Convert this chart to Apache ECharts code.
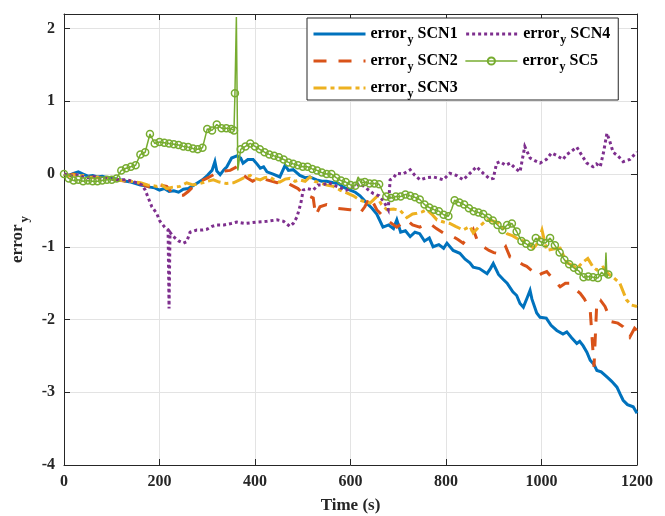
<!DOCTYPE html>
<html>
<head>
<meta charset="utf-8">
<script src="https://cdn.jsdelivr.net/npm/echarts@6/dist/echarts.min.js"></script>
<style>
html,body{margin:0;padding:0;background:#fff;}
#chart{width:665px;height:516px;}
</style>
</head>
<body>
<div id="chart"></div>
<script>
// ---- data (time in s, error_y) ----
const xTicks = [0, 200, 400, 600, 800, 1000, 1200];
const yTicks = [-4, -3, -2, -1, 0, 1, 2];

const scn1T = [0,10,20,30,40,50,60,70,80,90,100,110,120,130,140,150,160,170,180,190,200,210,220,230,240,250,260,270,280,290,300,310,316,320,327,335,341,351,362,370,375,385,396,404,411,418,425,438,452,463,470,480,494,505,515,529,540,550,564,575,585,599,610,620,634,645,655,668,680,690,697,705,715,725,735,745,755,765,773,785,795,802,815,829,840,850,857,870,886,893,899,910,920,928,940,948,955,962,970,976,980,990,997,1010,1020,1032,1045,1053,1063,1074,1080,1087,1095,1102,1110,1116,1125,1137,1147,1158,1165,1171,1180,1192,1200];
const scn1V = [0,-0.02,0.01,0.03,0,-0.03,-0.02,-0.04,-0.03,-0.05,-0.05,-0.07,-0.08,-0.1,-0.11,-0.13,-0.15,-0.16,-0.18,-0.19,-0.22,-0.2,-0.24,-0.23,-0.25,-0.21,-0.2,-0.16,-0.12,-0.08,-0.02,0.05,0.17,0.04,-0.01,0.06,0.1,0.22,0.25,0.22,0.15,0.2,0.2,0.14,0.08,0.1,0.03,0,-0.04,0.12,0.05,0.06,-0.02,-0.05,-0.04,-0.08,-0.1,-0.1,-0.12,-0.13,-0.18,-0.22,-0.25,-0.3,-0.4,-0.47,-0.55,-0.73,-0.7,-0.75,-0.63,-0.8,-0.78,-0.86,-0.8,-0.82,-0.92,-0.88,-1.0,-0.97,-1.02,-0.95,-1.05,-1.09,-1.17,-1.22,-1.28,-1.3,-1.37,-1.3,-1.23,-1.38,-1.45,-1.5,-1.62,-1.67,-1.78,-1.83,-1.7,-1.6,-1.72,-1.91,-1.97,-1.98,-2.08,-2.15,-2.2,-2.17,-2.25,-2.33,-2.3,-2.36,-2.45,-2.56,-2.62,-2.7,-2.72,-2.79,-2.85,-2.93,-3.03,-3.11,-3.17,-3.2,-3.29];

const scn2T = [0,10,20,30,40,50,60,70,80,90,100,110,120,130,140,150,159,170,180,187,200,215,225,236,250,260,271,285,299,310,320,335,348,362,372,383,395,410,425,436,446,460,475,490,505,515,522,527,536,550,564,571,585,599,610,620,630,641,655,668,680,697,707,718,730,745,755,766,780,794,815,825,836,845,857,866,878,890,900,913,925,934,945,955,962,969,980,990,1000,1011,1025,1039,1050,1060,1070,1081,1090,1102,1110,1116,1123,1133,1146,1160,1171,1185,1195,1200];
const scn2V = [0,-0.02,0,-0.02,-0.03,-0.05,-0.04,-0.05,-0.06,-0.06,-0.07,-0.08,-0.09,-0.1,-0.11,-0.12,-0.13,-0.16,-0.18,-0.2,-0.15,-0.17,-0.25,-0.29,-0.29,-0.24,-0.17,-0.1,-0.06,-0.02,0.02,0.04,0.05,0.1,0,-0.05,-0.1,-0.04,-0.08,-0.1,-0.12,-0.1,-0.15,-0.2,-0.3,-0.31,-0.33,-0.57,-0.45,-0.42,-0.45,-0.47,-0.48,-0.49,-0.5,-0.54,-0.45,-0.31,-0.49,-0.58,-0.65,-0.73,-0.68,-0.63,-0.7,-0.73,-0.7,-0.68,-0.75,-0.81,-0.86,-0.9,-0.95,-0.88,-0.76,-0.92,-1.0,-1.05,-1.08,-1.1,-1.0,-1.14,-1.16,-1.22,-1.25,-1.27,-1.33,-1.41,-1.37,-1.34,-1.45,-1.55,-1.5,-1.5,-1.58,-1.64,-1.72,-1.87,-2.65,-1.73,-1.73,-1.82,-2.03,-2.05,-2.1,-2.24,-2.12,-2.15];

const scn3T = [0,10,20,30,40,50,60,70,80,90,100,110,120,130,140,150,160,175,195,205,215,228,243,257,270,285,300,313,325,340,355,368,380,390,400,411,420,431,440,452,463,473,484,494,505,515,525,536,550,564,578,592,606,620,630,641,655,665,676,690,704,718,730,739,750,760,770,781,795,808,820,836,850,857,870,886,900,913,928,940,955,970,983,992,1001,1011,1025,1039,1053,1064,1074,1085,1097,1108,1116,1129,1140,1150,1164,1178,1188,1200];
const scn3V = [0,-0.03,-0.01,-0.03,-0.02,-0.04,-0.05,-0.04,-0.06,-0.05,-0.07,-0.08,-0.09,-0.09,-0.1,-0.11,-0.12,-0.15,-0.17,-0.15,-0.2,-0.18,-0.17,-0.12,-0.15,-0.13,-0.1,-0.08,-0.11,-0.13,-0.12,-0.08,-0.04,-0.02,-0.06,-0.08,-0.05,-0.04,-0.08,-0.11,-0.07,-0.06,-0.1,-0.08,-0.1,-0.04,-0.1,-0.12,-0.15,-0.17,-0.22,-0.26,-0.3,-0.36,-0.38,-0.4,-0.31,-0.42,-0.49,-0.48,-0.5,-0.6,-0.55,-0.54,-0.52,-0.49,-0.55,-0.63,-0.66,-0.68,-0.72,-0.77,-0.72,-0.81,-0.72,-0.63,-0.65,-0.68,-0.82,-0.85,-0.91,-0.93,-1.02,-0.95,-0.77,-1.05,-1.03,-1.02,-1.22,-1.25,-1.3,-1.22,-1.16,-1.28,-1.32,-1.28,-1.37,-1.42,-1.5,-1.73,-1.8,-1.82];

const scn4T = [0,10,20,30,40,50,60,70,80,90,100,110,120,132,142,152,163,170,176,184,194,201,211,218,220,222,229,240,250,257,264,278,291,299,310,320,335,350,362,380,404,425,446,460,473,480,488,496,501,510,522,532,542,555,571,583,592,606,620,634,648,660,670,679,683,690,697,710,725,735,746,760,773,785,794,808,822,836,850,864,878,892,899,906,913,925,934,945,955,965,976,987,997,1010,1021,1033,1045,1053,1060,1074,1085,1095,1108,1115,1123,1130,1137,1143,1150,1160,1171,1185,1192,1200];
const scn4V = [0,-0.02,-0.03,-0.01,-0.04,-0.05,-0.03,-0.05,-0.06,-0.05,-0.07,-0.08,-0.08,-0.08,-0.1,-0.12,-0.15,-0.22,-0.32,-0.45,-0.54,-0.65,-0.73,-0.77,-1.85,-0.8,-0.86,-0.92,-0.95,-0.93,-0.8,-0.77,-0.77,-0.76,-0.72,-0.7,-0.7,-0.68,-0.66,-0.68,-0.66,-0.65,-0.63,-0.65,-0.72,-0.68,-0.59,-0.4,-0.22,-0.2,-0.22,-0.15,-0.15,-0.12,-0.17,-0.2,-0.22,-0.18,-0.13,-0.2,-0.27,-0.3,-0.38,-0.49,-0.08,-0.05,0.01,0,0.06,-0.02,-0.08,-0.05,-0.04,-0.06,-0.08,0.01,-0.02,-0.08,0.01,0.1,0.01,-0.07,-0.06,0.15,0.17,0.12,0.15,0.08,0.03,0.38,0.22,0.18,0.15,0.2,0.29,0.25,0.2,0.27,0.3,0.37,0.25,0.15,0.1,0.14,0.1,0.3,0.56,0.45,0.3,0.25,0.17,0.2,0.25,0.3];

const sc5T = [0,10,20,30,40,50,60,70,80,90,100,110,120,130,140,150,160,170,180,190,200,210,220,230,240,250,260,270,280,290,300,310,320,330,340,350,356,358,361,364,370,380,390,400,410,420,430,440,450,460,470,480,490,500,510,520,530,540,550,560,570,580,590,600,610,616,622,630,640,650,660,668,675,685,695,705,715,725,735,745,755,765,775,785,795,805,812,818,828,838,848,858,868,878,888,898,908,918,928,938,948,958,968,978,988,998,1008,1018,1028,1038,1048,1058,1068,1078,1088,1098,1108,1118,1126,1133,1135,1137,1140];
const sc5V = [0,-0.06,-0.09,-0.08,-0.1,-0.09,-0.1,-0.1,-0.09,-0.08,-0.08,-0.06,0.05,0.08,0.1,0.12,0.27,0.3,0.55,0.42,0.44,0.43,0.42,0.41,0.4,0.38,0.37,0.35,0.34,0.36,0.62,0.6,0.68,0.63,0.63,0.62,0.6,1.11,2.16,0.05,0.34,0.38,0.42,0.38,0.34,0.3,0.27,0.25,0.23,0.2,0.16,0.14,0.12,0.1,0.1,0.07,0.05,0.02,0,0,-0.05,-0.09,-0.11,-0.15,-0.16,-0.04,-0.12,-0.11,-0.13,-0.13,-0.14,-0.25,-0.31,-0.33,-0.31,-0.31,-0.28,-0.3,-0.32,-0.35,-0.42,-0.46,-0.49,-0.51,-0.56,-0.58,-0.48,-0.36,-0.39,-0.42,-0.47,-0.51,-0.53,-0.55,-0.6,-0.64,-0.7,-0.77,-0.7,-0.68,-0.79,-0.92,-0.96,-1.0,-0.88,-0.93,-0.95,-0.88,-0.98,-1.08,-1.18,-1.24,-1.29,-1.33,-1.42,-1.41,-1.42,-1.43,-1.35,-1.4,-1.08,-1.42,-1.38];
const sc5NoMarker = [361, 364, 616, 668, 812, 1133, 1135, 1137];

// ---- chart ----
const FONT = '"Liberation Serif", "Times New Roman", serif';
const AXC = '#262626';
function pairs(t, v) { return t.map((x, i) => [x, v[i]]); }

const chart = echarts.init(document.getElementById('chart'), null, {renderer: 'canvas'});

const sc5Data = sc5T.map((x, i) => {
  const d = {value: [x, sc5V[i]]};
  if (sc5NoMarker.indexOf(x) >= 0) d.symbol = 'none';
  return d;
});

function lineSeries(name, data, color, type, width) {
  return {
    name: name, type: 'line', data: data, xAxisIndex: 0, yAxisIndex: 0,
    symbol: 'none', showSymbol: false,
    lineStyle: {color: color, width: width, type: type, cap: 'butt', join: 'miter'},
    itemStyle: {color: color, opacity: 0},
    animation: false
  };
}

const option = {
  animation: false,
  backgroundColor: '#fff',
  grid: {left: 64, right: 28, top: 14, bottom: 51, containLabel: false, outerBoundsMode: 'none'},
  xAxis: [{
    type: 'value', min: 0, max: 1200, interval: 200, position: 'bottom',
    name: 'Time (s)', nameLocation: 'middle', nameGap: 32,
    nameTextStyle: {fontFamily: FONT, fontWeight: 'bold', fontSize: 17, color: AXC},
    axisLine: {onZero: false, lineStyle: {color: AXC, width: 1}},
    axisTick: {inside: true, length: 6, lineStyle: {color: AXC}},
    axisLabel: {fontFamily: FONT, fontWeight: 'bold', fontSize: 16, color: AXC, margin: 9,
      formatter: function (v) { return String(v); }},
    splitLine: {show: true, lineStyle: {color: '#e3e3e3', width: 1}}
  }, {
    type: 'value', min: 0, max: 1200, interval: 200, position: 'top',
    axisLine: {onZero: false, lineStyle: {color: AXC, width: 1}},
    axisTick: {inside: true, length: 6, lineStyle: {color: AXC}},
    axisLabel: {show: false}, splitLine: {show: false}
  }],
  yAxis: [{
    type: 'value', min: -4, max: 2.2, interval: 1, position: 'left',
    name: '{a|error}{s|y}', nameLocation: 'middle', nameGap: 30, nameRotate: 90,
    nameTextStyle: {
      fontFamily: FONT, fontWeight: 'bold', fontSize: 17, color: AXC,
      rich: {
        a: {fontFamily: FONT, fontWeight: 'bold', fontSize: 17, color: AXC},
        s: {fontFamily: FONT, fontWeight: 'bold', fontSize: 13, color: AXC, padding: [14, 0, 0, 2]}
      }
    },
    axisLine: {onZero: false, lineStyle: {color: AXC, width: 1}},
    axisTick: {inside: true, length: 6, lineStyle: {color: AXC}},
    axisLabel: {fontFamily: FONT, fontWeight: 'bold', fontSize: 16, color: AXC, margin: 9, showMaxLabel: false},
    splitLine: {show: true, lineStyle: {color: '#e3e3e3', width: 1}}
  }, {
    type: 'value', min: -4, max: 2.2, interval: 1, position: 'right',
    axisLine: {onZero: false, lineStyle: {color: AXC, width: 1}},
    axisTick: {inside: true, length: 6, lineStyle: {color: AXC}},
    axisLabel: {show: false}, splitLine: {show: false}
  }],
  legend: {
    left: 307, top: 18, width: 305,
    orient: 'horizontal',
    padding: [8, 8, 0, 5],
    itemGap: 7, itemWidth: 52, itemHeight: 9,
    backgroundColor: '#fff', borderColor: AXC, borderWidth: 1,
    data: [
      {name: 'error_y SCN1', lineStyle: {width: 3}},
      {name: 'error_y SCN4', lineStyle: {width: 3}},
      {name: 'error_y SCN2', lineStyle: {width: 3}},
      {name: 'error_y SC5', lineStyle: {width: 1.5}, itemStyle: {opacity: 1}},
      {name: 'error_y SCN3', lineStyle: {width: 3}}
    ],
    formatter: function (n) { return '{a|error}{s|y}{a| ' + n.split(' ')[1] + '}'; },
    textStyle: {
      fontFamily: FONT, fontWeight: 'bold', fontSize: 16, color: '#000',
      rich: {
        a: {fontFamily: FONT, fontWeight: 'bold', fontSize: 16, color: '#000'},
        s: {fontFamily: FONT, fontWeight: 'bold', fontSize: 12, color: '#000', padding: [12, 0, 0, 1]}
      }
    }
  },
  series: [
    lineSeries('error_y SCN1', pairs(scn1T, scn1V), '#0072BD', 'solid', 3),
    lineSeries('error_y SCN2', pairs(scn2T, scn2V), '#D95319', [13, 12], 3),
    lineSeries('error_y SCN3', pairs(scn3T, scn3V), '#EDB120', [13, 4, 4, 4], 3),
    lineSeries('error_y SCN4', pairs(scn4T, scn4V), '#7E2F8E', [3, 3], 3),
    {
      name: 'error_y SC5', type: 'line', data: sc5Data, xAxisIndex: 0, yAxisIndex: 0,
      symbol: 'circle', symbolSize: 7, showSymbol: true, showAllSymbol: true,
      lineStyle: {color: '#77AC30', width: 1.5},
      itemStyle: {color: 'rgba(255,255,255,0)', borderColor: '#77AC30', borderWidth: 1.5},
      animation: false
    }
  ]
};
chart.setOption(option);
</script>
</body>
</html>
